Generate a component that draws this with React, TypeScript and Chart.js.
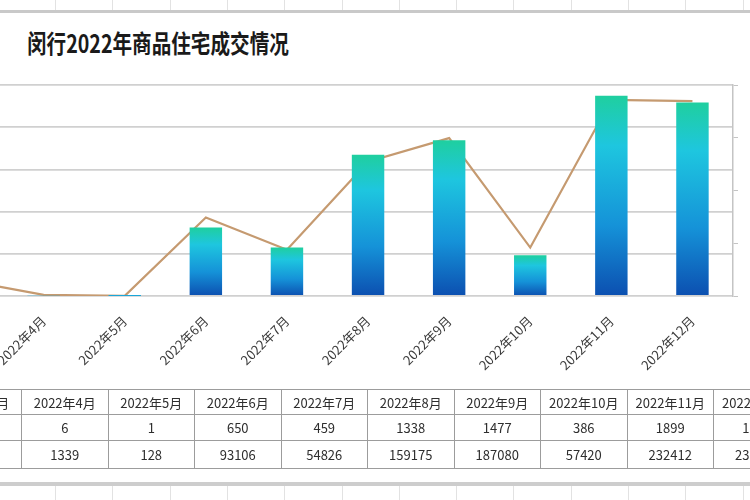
import React, { useEffect, useRef } from "react";
import { Chart, registerables } from "chart.js";

Chart.register(...registerables);

const months = ["2022年3月", "2022年4月", "2022年5月", "2022年6月", "2022年7月", "2022年8月", "2022年9月", "2022年10月", "2022年11月", "2022年12月"];
const unitValues = [13, 6, 1, 650, 459, 1338, 1477, 386, 1899, 1833];
const areaValues = [19020, 1339, 128, 93106, 54826, 159175, 187080, 57420, 232412, 230948];
const titleText = "闵行2022年商品住宅成交情况";

const FONT = '"Noto Sans CJK SC", "Noto Sans", sans-serif';

export default function App() {
  const ref = useRef<HTMLCanvasElement | null>(null);

  useEffect(() => {
    document.body.style.margin = "0";
    const canvas = ref.current;
    if (!canvas) return;
    const chart = new Chart(canvas, {
      data: {
        labels: months,
        datasets: [
          {
            type: "line",
            data: areaValues,
            yAxisID: "y1",
            borderColor: "#c59a70",
            borderWidth: 2.2,
            pointRadius: 0,
            tension: 0,
            order: 2,
          },
          {
            type: "bar",
            data: unitValues,
            yAxisID: "y",
            barPercentage: 0.4,
            categoryPercentage: 1,
            order: 1,
            backgroundColor: (c: any) => {
              const ch = c.chart;
              const ys = ch.scales?.y;
              if (!ys || !ch.chartArea || c.raw == null) return "#1aa6d8";
              const top = ys.getPixelForValue(c.raw);
              const bottom = ys.getPixelForValue(0);
              if (!isFinite(top) || !isFinite(bottom) || bottom - top < 1) return "#1aa6d8";
              const g = ch.ctx.createLinearGradient(0, top, 0, bottom);
              g.addColorStop(0, "#1fcf9f");
              g.addColorStop(0.25, "#1ec6df");
              g.addColorStop(0.65, "#1592d8");
              g.addColorStop(1, "#0c4fb0");
              return g;
            },
          },
        ],
      } as any,
      options: {
        animation: false,
        responsive: false,
        maintainAspectRatio: false,
        layout: { padding: { top: 15, left: 0, right: 0, bottom: 0 } },
        plugins: { legend: { display: false }, tooltip: { enabled: false } },
        scales: {
          x: {
            grid: { display: false },
            border: { display: false },
            ticks: {
              minRotation: 45,
              maxRotation: 45,
              padding: 9,
              color: "#3a3a3a",
              font: { family: FONT, size: 13 },
            },
            afterFit: (s: any) => {
              s.height = 94;
              s.paddingLeft = 0;
              s.paddingRight = 0;
            },
          },
          y: {
            min: 0,
            max: 2000,
            ticks: { stepSize: 400, display: false },
            grid: { color: "#d0d0d0", lineWidth: 1.8, drawTicks: false },
            border: { display: false },
            afterFit: (s: any) => {
              s.width = 0;
              s.paddingTop = 0;
              s.paddingBottom = 0;
            },
          },
          y1: {
            position: "right",
            min: 0,
            max: 250000,
            ticks: { stepSize: 62500, display: false },
            grid: { drawOnChartArea: false, drawTicks: true, tickLength: 5, color: "#c4c4c4" },
            border: { display: true, color: "#c4c4c4", width: 1.5 },
            afterFit: (s: any) => {
              s.width = 17;
              s.paddingTop = 0;
              s.paddingBottom = 0;
            },
          },
        },
      } as any,
    });
    return () => chart.destroy();
  }, []);

  const colW = 85.5;
  const tableLeft = 20 - colW;
  const gridXs: number[] = [];
  for (let x = 55; x < 750; x += 57.3) gridXs.push(x);

  const cell = (h: number): React.CSSProperties => ({
    width: colW,
    height: h,
    border: "1px solid #9c9c9c",
    textAlign: "center",
    padding: 0,
    fontSize: 13,
    color: "#2e2e2e",
    fontFamily: FONT,
    whiteSpace: "nowrap",
    overflow: "hidden",
  });

  return (
    <div style={{ position: "fixed", left: 0, top: 0, width: 750, height: 500, overflow: "hidden", background: "#fff" }}>
      {gridXs.map((x, i) => (
        <div key={"t" + i} style={{ position: "absolute", left: x, top: 0, width: 1, height: 10, background: "#e2e2e2" }} />
      ))}
      <div style={{ position: "absolute", left: 0, top: 10, width: 750, height: 3, background: "#c9c9c9" }} />

      <div
        style={{
          position: "absolute",
          left: 27,
          top: 24,
          fontFamily: FONT,
          fontWeight: 700,
          fontSize: 20,
          color: "#1a1a1a",
          whiteSpace: "nowrap",
          transform: "scale(0.98, 1.25)",
          transformOrigin: "left top",
        }}
      >
        {titleText}
      </div>

      <canvas
        ref={ref}
        width={828}
        height={320}
        style={{ position: "absolute", left: -78, top: 70, width: 828, height: 320 }}
      />

      <table
        style={{
          position: "absolute",
          left: tableLeft,
          top: 389,
          borderCollapse: "collapse",
          tableLayout: "fixed",
          width: colW * months.length,
        }}
      >
        <tbody>
          <tr>
            {months.map((m, i) => (
              <td key={"h" + i} style={cell(24)}>{m}</td>
            ))}
          </tr>
          <tr>
            {unitValues.map((v, i) => (
              <td key={"u" + i} style={cell(25)}>{i === 0 ? "" : v}</td>
            ))}
          </tr>
          <tr>
            {areaValues.map((v, i) => (
              <td key={"a" + i} style={cell(27)}>{i === 0 ? "" : v}</td>
            ))}
          </tr>
        </tbody>
      </table>

      <div style={{ position: "absolute", left: 0, top: 482, width: 750, height: 4, background: "#cdcdcd" }} />
      {gridXs.map((x, i) => (
        <div key={"b" + i} style={{ position: "absolute", left: x, top: 486, width: 1, height: 14, background: "#e2e2e2" }} />
      ))}
    </div>
  );
}
